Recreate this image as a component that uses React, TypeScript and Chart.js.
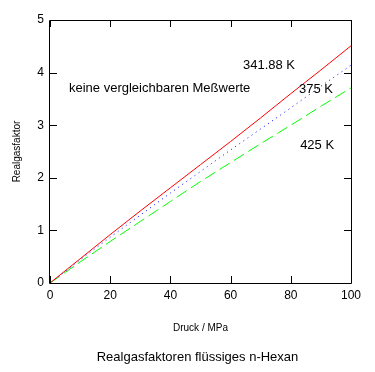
import { useEffect, useRef } from 'react';
import { Chart, registerables } from 'chart.js';

Chart.register(...registerables);

const pressure = [0, 10, 20, 30, 40, 50, 60, 70, 80, 90, 100];
const z341 = [0, 0.46, 0.92, 1.37, 1.81, 2.25, 2.69, 3.14, 3.60, 4.05, 4.51];
const z375 = [0, 0.44, 0.87, 1.29, 1.71, 2.12, 2.53, 2.93, 3.33, 3.74, 4.14];
const z425 = [0, 0.40, 0.79, 1.17, 1.55, 1.93, 2.29, 2.65, 3.00, 3.36, 3.71];
const xTicks = [0, 20, 40, 60, 80, 100];
const yTicks = [0, 1, 2, 3, 4, 5];
const chartTitle = 'Realgasfaktoren flüssiges n-Hexan';
const noteTexts = ['341.88 K', '375 K', '425 K', 'keine vergleichbaren Meßwerte'];
const noteP = [64.1, 82.7, 83.1, 6.3];
const noteZ = [4.07, 3.61, 2.54, 3.625];

const FONT = "'Liberation Sans', Arial, sans-serif";

const toPts = (ys: number[]) => pressure.map((p, i) => ({ x: p, y: ys[i] }));

const framePlugin = {
  id: 'frame',
  afterDatasetsDraw(chart: any) {
    const { ctx, chartArea } = chart;
    const xs = chart.scales.x;
    const ys = chart.scales.y;
    const { left, right, top, bottom } = chartArea;
    ctx.save();
    ctx.strokeStyle = '#000';
    ctx.lineWidth = 1;
    ctx.beginPath();
    ctx.rect(Math.round(left) - 0.5, Math.round(top) + 0.5, Math.round(right - left) + 1, Math.round(bottom - top));
    ctx.stroke();
    const len = 7;
    ctx.beginPath();
    xTicks.forEach((v) => {
      const px = Math.round(xs.getPixelForValue(v)) + 0.5;
      ctx.moveTo(px, bottom);
      ctx.lineTo(px, bottom - len);
      ctx.moveTo(px, top);
      ctx.lineTo(px, top + len);
    });
    yTicks.forEach((v) => {
      const py = Math.round(ys.getPixelForValue(v)) + 0.5;
      ctx.moveTo(left, py);
      ctx.lineTo(left + len, py);
      ctx.moveTo(right, py);
      ctx.lineTo(right - len, py);
    });
    ctx.stroke();
    ctx.fillStyle = '#000';
    ctx.font = `13px ${FONT}`;
    ctx.textBaseline = 'alphabetic';
    ctx.textAlign = 'left';
    noteTexts.forEach((t, i) => {
      ctx.fillText(t, xs.getPixelForValue(noteP[i]), ys.getPixelForValue(noteZ[i]));
    });
    ctx.textAlign = 'center';
    ctx.textBaseline = 'middle';
    ctx.fillText(chartTitle, (left + right) / 2 - 3, bottom + 74);
    ctx.restore();
  },
};

export default function App() {
  const ref = useRef<HTMLCanvasElement>(null);
  useEffect(() => {
    document.body.style.margin = '0';
    const chart = new Chart(ref.current!, {
      type: 'line',
      data: {
        datasets: [
          { data: toPts(z341), borderColor: '#ff0000', borderWidth: 1, pointRadius: 0, fill: false },
          { data: toPts(z375), borderColor: '#0000ff', borderWidth: 1, borderDash: [1, 4], pointRadius: 0, fill: false },
          { data: toPts(z425), borderColor: '#00ff00', borderWidth: 1, borderDash: [12, 5], pointRadius: 0, fill: false },
        ],
      },
      options: {
        responsive: false,
        animation: false,
        layout: { padding: { top: 20, right: 24, left: 0, bottom: 0 } },
        plugins: {
          legend: { display: false },
          tooltip: { enabled: false },
          title: { display: false },
        },
        scales: {
          x: {
            type: 'linear',
            min: 0,
            max: 100,
            afterFit: (s: any) => { s.height = 89; },
            afterBuildTicks: (s: any) => { s.ticks = xTicks.map((v) => ({ value: v })); },
            grid: { display: false, drawTicks: false },
            border: { display: false },
            ticks: { color: '#000', font: { family: FONT, size: 12 }, padding: 5, maxRotation: 0 },
            title: {
              display: true,
              text: 'Druck / MPa',
              color: '#000',
              font: { family: FONT, size: 10 },
              padding: { top: 0, bottom: 38 },
            },
          },
          y: {
            type: 'linear',
            min: 0,
            max: 5,
            afterFit: (s: any) => { s.width = 50; },
            afterBuildTicks: (s: any) => { s.ticks = yTicks.map((v) => ({ value: v })); },
            grid: { display: false, drawTicks: false },
            border: { display: false },
            ticks: { color: '#000', font: { family: FONT, size: 12 }, padding: 6 },
            title: {
              display: true,
              text: 'Realgasfaktor',
              color: '#000',
              font: { family: FONT, size: 10 },
              padding: { top: 11, bottom: 0 },
            },
          },
        },
      },
      plugins: [framePlugin],
    });
    return () => chart.destroy();
  }, []);
  return (
    <div style={{ position: 'absolute', left: 0, top: 0, width: 375, height: 372, background: '#fff' }}>
      <canvas ref={ref} width={375} height={372} />
    </div>
  );
}
